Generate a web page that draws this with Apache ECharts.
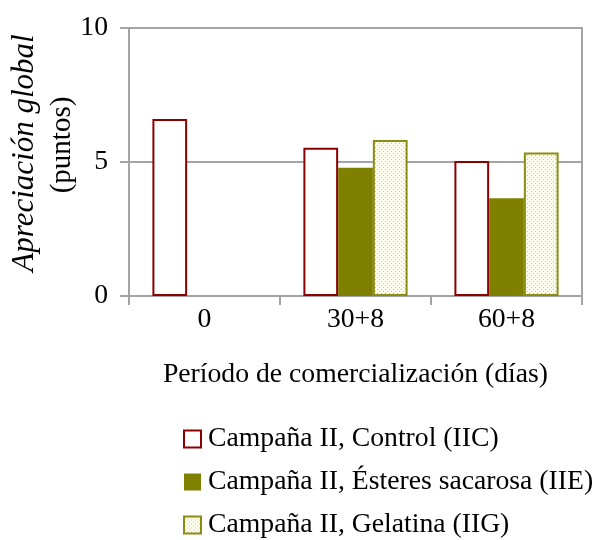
<!DOCTYPE html>
<html>
<head>
<meta charset="utf-8">
<script src="https://cdn.jsdelivr.net/npm/echarts@6/dist/echarts.min.js"></script>
<style>
  html, body { margin: 0; padding: 0; background: #fff; }
  #chart { width: 609px; height: 540px; }
</style>
</head>
<body>
<div id="chart"></div>
<script>
// Sensory evaluation scores by commercialisation period
const categories = ['0', '30+8', '60+8'];
const seriesNames = [
  'Campaña II, Control (IIC)',
  'Campaña II, Ésteres sacarosa (IIE)',
  'Campaña II, Gelatina (IIG)'
];
const controlValues = [6.6, 5.53, 5.04];
const esteresValues = [null, 4.79, 3.65];
const gelatinaValues = [null, 5.82, 5.35];
const yTicks = [0, 5, 10];

// Dotted fill for the gelatin bars
function dotPattern() {
  const c = document.createElement('canvas');
  c.width = 4; c.height = 4;
  const ctx = c.getContext('2d');
  ctx.fillStyle = '#fcfcee';
  ctx.fillRect(0, 0, 4, 4);
  ctx.fillStyle = '#c8c88e';
  ctx.fillRect(1, 1, 1, 1);
  ctx.fillRect(3, 3, 1, 1);
  return c;
}

const font = '"Liberation Serif", "Times New Roman", serif';
const fs = 27.7;
const chart = echarts.init(document.getElementById('chart'));

chart.setOption({
  animation: false,
  textStyle: { fontFamily: font, color: '#000' },
  grid: {
    left: 129, right: 27, top: 28, bottom: 244,
    show: true, borderColor: '#a4a4a4', borderWidth: 2, backgroundColor: 'transparent'
  },
  xAxis: {
    type: 'category',
    data: categories,
    name: 'Período de comercialización (días)',
    nameLocation: 'middle',
    nameGap: 65,
    nameTextStyle: { fontFamily: font, fontSize: fs, color: '#000' },
    axisLine: { lineStyle: { color: '#a4a4a4', width: 2 } },
    axisTick: { show: true, length: 9, lineStyle: { color: '#a4a4a4', width: 2 } },
    axisLabel: { fontFamily: font, fontSize: fs, color: '#000', margin: 10 }
  },
  yAxis: {
    type: 'value',
    min: 0, max: 10, interval: 5,
    axisLine: { show: true, lineStyle: { color: '#a4a4a4', width: 2 } },
    axisTick: { show: true, inside: false, length: 9, lineStyle: { color: '#a4a4a4', width: 2 } },
    axisLabel: {
      fontFamily: font, fontSize: fs, color: '#000', margin: 21,
      formatter: v => (yTicks.indexOf(v) >= 0 ? String(v) : '')
    },
    splitLine: { show: true, lineStyle: { color: '#a4a4a4', width: 2 } }
  },
  legend: {
    orient: 'vertical',
    left: 178, top: 420, height: 200,
    itemWidth: 17, itemHeight: 17, itemGap: 15,
    icon: 'rect',
    textStyle: { fontFamily: font, fontSize: fs, color: '#000', padding: [0, 0, 0, 2] },
    data: seriesNames
  },
  graphic: [
    {
      type: 'text', rotation: Math.PI / 2,
      x: 25, y: 153,
      style: {
        text: 'Apreciación global', font: 'italic 31px ' + font,
        fill: '#000', align: 'center', verticalAlign: 'middle'
      }
    },
    {
      type: 'text', rotation: Math.PI / 2,
      x: 62, y: 145,
      style: {
        text: '(puntos)', font: '29px ' + font,
        fill: '#000', align: 'center', verticalAlign: 'middle'
      }
    }
  ],
  series: [
    {
      name: seriesNames[0], type: 'bar', data: controlValues,
      barGap: '0%', barCategoryGap: '31%',
      itemStyle: { color: '#ffffff', borderColor: '#8b0000', borderWidth: 2 }
    },
    {
      name: seriesNames[1], type: 'bar', data: esteresValues,
      itemStyle: { color: '#808000', borderColor: '#808000', borderWidth: 0 }
    },
    {
      name: seriesNames[2], type: 'bar', data: gelatinaValues,
      itemStyle: { color: { image: dotPattern(), repeat: 'repeat' }, borderColor: '#8c8c10', borderWidth: 2 }
    }
  ]
});
</script>
</body>
</html>
